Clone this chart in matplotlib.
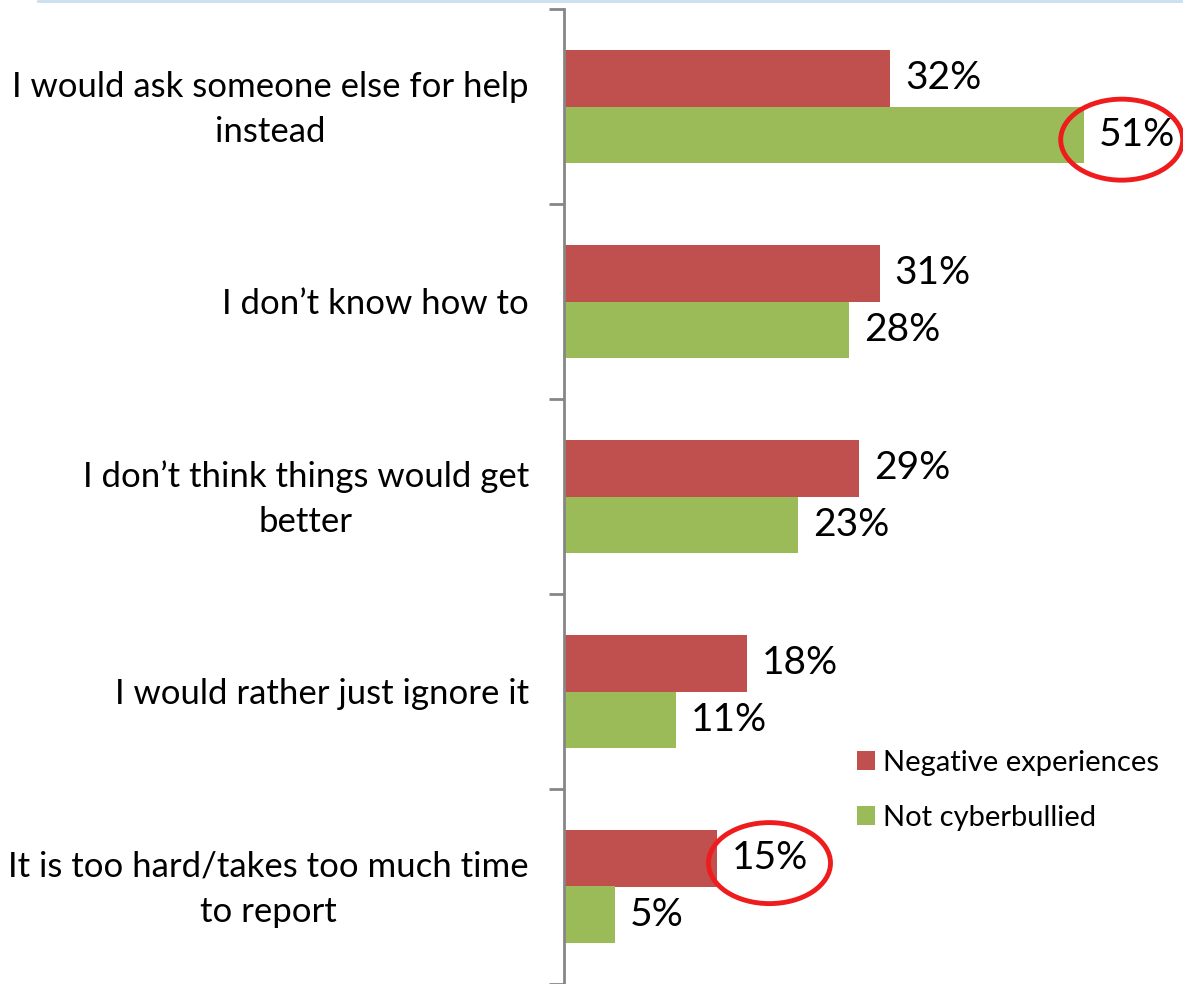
import matplotlib
matplotlib.use("Agg")
import matplotlib.pyplot as plt
from matplotlib.patches import Ellipse
from matplotlib.lines import Line2D
from matplotlib.transforms import ScaledTranslation
import numpy as np

categories = [
    "I would ask someone else for help\ninstead",
    "I don\u2019t know how to",
    "I don\u2019t think things would get\nbetter",
    "I would rather just ignore it",
    "It is too hard/takes too much time\nto report",
]
negative = [32, 31, 29, 18, 15]
not_bullied = [51, 28, 23, 11, 5]
series_names = ["Negative experiences", "Not cyberbullied"]
highlight = [("Not cyberbullied", 0, 38), ("Negative experiences", 4, 53)]

RED = "#C0504D"
GREEN = "#9BBB59"
AXC = "#868686"
FONT = ["Lato", "DejaVu Sans"]
plt.rcParams["font.family"] = FONT

W, H = 1183, 984
PXPCT = 10.2
fig = plt.figure(figsize=(W / 100, H / 100), dpi=100)
ax_left = 563.5 / W
ax = fig.add_axes([ax_left, 0.0, 1 - ax_left, 975 / H])

n = len(categories)
y = np.arange(n)
bh = 0.29
ax.barh(y - bh / 2, negative, height=bh, color=RED, label=series_names[0])
ax.barh(y + bh / 2, not_bullied, height=bh, color=GREEN, label=series_names[1])
ax.set_ylim(n - 0.5, -0.5)
ax.set_xlim(0, (W - 563.5) / PXPCT)

for s in ["top", "right", "bottom"]:
    ax.spines[s].set_visible(False)
ax.spines["left"].set_color(AXC)
ax.spines["left"].set_linewidth(2)
ax.set_xticks([])
ax.set_yticks(y)
ax.set_yticklabels(categories, fontsize=25, ha="right", multialignment="center", linespacing=1.52)
ax.tick_params(axis="y", which="major", length=0, pad=25)
ax.set_yticks(np.arange(n + 1) - 0.5, minor=True)
ax.tick_params(axis="y", which="minor", length=11, width=2, color=AXC, direction="out")
for lab in ax.get_yticklabels():
    if "\n" in lab.get_text():
        lab.set_transform(lab.get_transform() + ScaledTranslation(0, 5 / 72, fig.dpi_scale_trans))

vals = {series_names[0]: negative, series_names[1]: not_bullied}
offs = {series_names[0]: -bh / 2, series_names[1]: bh / 2}
for name in series_names:
    for i, v in enumerate(vals[name]):
        ax.annotate(f"{v}%", (v, i + offs[name]), xytext=(15, 0), textcoords="offset pixels",
                    va="center", ha="left", fontsize=28, color="black")

# highlight ellipses around labels
for name, i, dx in highlight:
    v = vals[name][i]
    cx = v + dx / PXPCT
    e = Ellipse((cx, i + offs[name] + 0.025), width=122 / PXPCT, height=81 / 195,
                fill=False, edgecolor="#EE1C1C", linewidth=3.5, clip_on=False)
    ax.add_patch(e)

leg = fig.legend(loc="upper left", bbox_to_anchor=(842 / W, 1 - 735 / H), frameon=False,
                 fontsize=21, handlelength=0.62, handleheight=0.62, handletextpad=0.3,
                 labelspacing=1.0, borderpad=0)

fig.add_artist(Line2D([38 / W, 1], [1 - 1 / H, 1 - 1 / H], color="#C9DFF0", linewidth=2))

fig.savefig("out.png", dpi=100)
